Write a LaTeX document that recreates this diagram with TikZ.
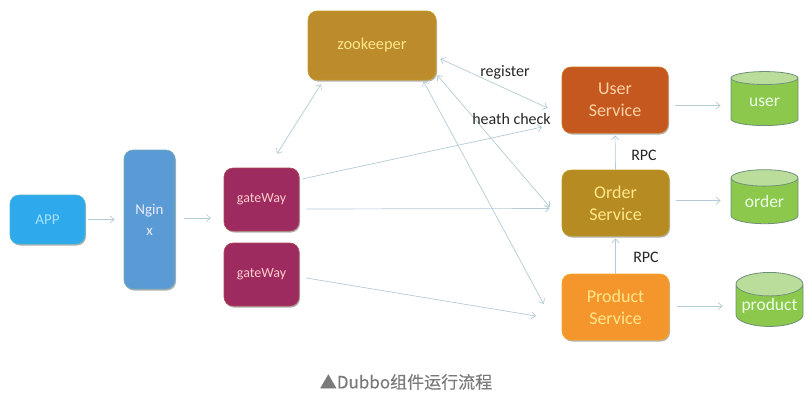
\documentclass[tikz,border=0pt]{standalone}
\usepackage{fontspec}
\setmainfont{Carlito}
\newfontfamily\capfont[FakeBold=0.3]{Noto Sans CJK SC}
\usetikzlibrary{arrows.meta,shapes.geometric,shadows}
\definecolor{arrowblue}{HTML}{B4CAD6}
\definecolor{zkgold}{HTML}{BC8B2C}
\definecolor{usered}{HTML}{C5581F}
\definecolor{ordergold}{HTML}{B68B22}
\definecolor{prodorange}{HTML}{F5962C}
\definecolor{appblue}{HTML}{2EA9EC}
\definecolor{ngblue}{HTML}{5B9BD5}
\definecolor{gwred}{HTML}{9D2B5F}
\definecolor{dbgreen}{HTML}{8CC84B}
\definecolor{dbtop}{HTML}{BADD9C}
\definecolor{dbedge}{HTML}{6F9078}
\definecolor{softyellow}{HTML}{FFE88C}
\tikzset{
  >={Straight Barb[length=4pt,width=7pt]},
  box/.style={draw=#1!85!yellow,line width=0.6pt,fill=#1,rounded corners=9pt,inner sep=0pt,align=center,
    drop shadow={shadow xshift=1pt,shadow yshift=-1.5pt,opacity=.3,fill=black}},
  db/.style={cylinder,shape border rotate=90,aspect=0.42,draw=dbedge,line width=0.8pt,cylinder uses custom fill,
    cylinder body fill=dbgreen,cylinder end fill=dbtop,minimum width=67pt,minimum height=54pt,inner sep=0pt,
    text=green!8!white,font=\fontsize{17.5}{17.5}\selectfont},
  link/.style={draw=arrowblue,line width=0.7pt},
  lbl/.style={font=\fontsize{16}{16}\selectfont,text=black!85}
}
\begin{document}
\begin{tikzpicture}[x=1pt,y=-1pt]
    \useasboundingbox (0,0) rectangle (806,400);
    \node[box=appblue,minimum width=75pt,minimum height=49pt,text=cyan!35!white,font=\fontsize{15}{15}\selectfont] (app) at (47.5,219.5) {APP};
    \node[box=ngblue,minimum width=51pt,minimum height=139pt,text=blue!8!white,font=\fontsize{15}{21}\selectfont] (nginx) at (149.5,219.5) {Ngin\\x};
    \node[box=gwred,minimum width=75pt,minimum height=63pt,text=pink!80!white,font=\fontsize{14}{14}\selectfont] (gateway1) at (261.5,199.5) {\raisebox{-2pt}{gateWay}};
    \node[box=gwred,minimum width=75pt,minimum height=63pt,text=pink!80!white,font=\fontsize{14}{14}\selectfont] (gateway2) at (261.5,274.5) {\raisebox{-3pt}{gateWay}};
    \node[box=zkgold,minimum width=128pt,minimum height=69pt,text=softyellow,font=\fontsize{16.4}{16.4}\selectfont] (zookeeper) at (372,45.5) {\raisebox{-2pt}{zookeeper}};
    \node[box=usered,minimum width=106pt,minimum height=66pt,text=orange!35!white,font=\fontsize{18}{22}\selectfont] (user) at (615,100) {User\\Service};
    \node[box=ordergold,minimum width=107pt,minimum height=66pt,text=softyellow,font=\fontsize{18}{22}\selectfont] (order) at (615.5,203) {Order\\Service};
    \node[box=prodorange,minimum width=107pt,minimum height=66pt,text=softyellow,font=\fontsize{18}{22}\selectfont] (product) at (615.5,307) {Product\\Service};
    \node[db] (userdb) at (764.5,102) {user};
    \node[db] (orderdb) at (764.5,201) {order};
    \node[db] (productdb) at (769.5,305.5) {product};
    \path (211,218) coordinate (gatein);
    \draw[link,->,shorten <=3pt,shorten >=9pt] (app) -- (nginx);
    \draw[link,->,shorten <=9pt] (nginx.east |- gatein) -- (gatein);
    \draw[link,<->,shorten <=4.7pt,shorten >=16.5pt] ([xshift=-48.5pt]zookeeper.south) -- ([xshift=6.7pt]gateway1.north);
    \draw[link,<->,shorten <=4.4pt,shorten >=15.4pt] ([yshift=-11.5pt]zookeeper.east) -- ([yshift=-14.4pt]user.west);
    \draw[link,<->,shorten <=1.5pt,shorten >=18.4pt] ([yshift=-28.5pt]zookeeper.east) -- ([yshift=-18pt]order.west);
    \draw[link,<->,shorten <=1pt,shorten >=37.9pt] ([xshift=51pt]zookeeper.south) -- ([yshift=-30.3pt]product.west);
    \draw[link,->,shorten <=3pt,shorten >=20pt] ([yshift=19.9pt]gateway1.east) -- ([yshift=-22.8pt]user.west);
    \draw[link,->,shorten <=7pt,shorten >=12pt] ([yshift=-9.5pt]gateway1.east) -- ([yshift=-5.5pt]order.west);
    \draw[link,->,shorten <=7pt,shorten >=26pt] ([yshift=-2.3pt]gateway2.east) -- ([yshift=-13.3pt]product.west);
    \draw[link,->,shorten >=2pt] (order.north) -- (user.south);
    \draw[link,->,shorten >=2pt] (product.north) -- (order.south);
    \draw[link,->,shorten <=7pt,shorten >=10pt] ([yshift=-5.5pt]user.east) -- ([yshift=-5.5pt]userdb.west |- user);
    \draw[link,->,shorten <=7pt,shorten >=10pt] ([yshift=2.3pt]order.east) -- ([yshift=2.3pt]orderdb.west |- order);
    \draw[link,->,shorten <=8pt,shorten >=13pt] ([yshift=1pt]product.east) -- ([yshift=1pt]productdb.west |- product);
    \node[lbl] (registerlbl) at (505,72) {register};
    \node[lbl] (healthlbl) at (511.5,119) {heath check};
    \node[lbl] (rpcup) at (644,155) {RPC};
    \node[lbl] (rpcdown) at (646,257) {RPC};
    \node[text=black!52,font=\capfont\fontsize{17}{17}\selectfont] (caption) at (406,382) {▲Dubbo组件运行流程};
\end{tikzpicture}
\end{document}
